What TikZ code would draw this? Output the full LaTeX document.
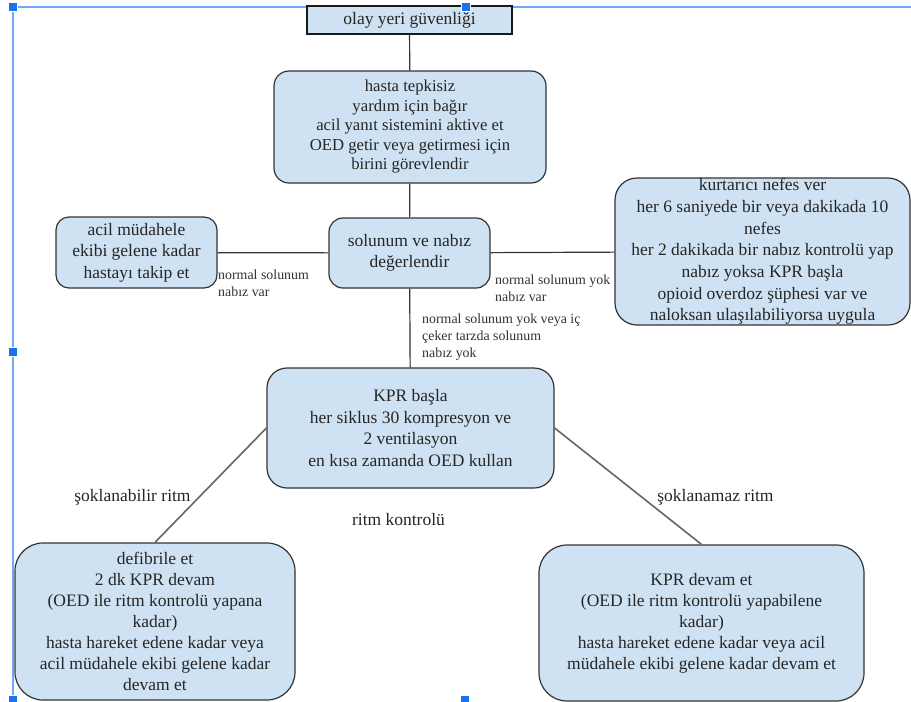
\documentclass[tikz,border=0pt]{standalone}
\usepackage{fontspec}
\setmainfont{Liberation Serif}
\definecolor{boxfill}{HTML}{CFE2F3}
\definecolor{linec}{HTML}{333333}
\definecolor{selline}{HTML}{6FA8F7}
\definecolor{selhandle}{HTML}{1A73E8}
\begin{document}
\begin{tikzpicture}[x=1pt,y=-1pt,
 box/.style={draw=linec, line width=1.2pt, fill=boxfill, align=center, inner sep=0pt, text=black!85, font=\fontsize{17.5}{21.5}\selectfont},
 lbl/.style={align=left, inner sep=0pt, text=black!80, font=\fontsize{13.9}{17}\selectfont},
 mid/.style={inner sep=0pt, text=black!85, font=\fontsize{17.5}{21}\selectfont},
 conn/.style={draw=linec, line width=1.2pt},
 diag/.style={draw=black!60, line width=1.6pt},
 sel/.style={draw=selline, line width=2pt},
 handle/.style={fill=selhandle, draw=white, line width=0.5pt, minimum size=9pt, inner sep=0pt}]
\useasboundingbox (0,0) rectangle (911,702);
\fill[white] (0,0) rectangle (911,702);
\draw[sel] (911,7) -- (13,7) -- (13,702);

\node[box, draw=black!90, line width=1.5pt, minimum width=205pt, minimum height=28pt] (safety) at (409.5,20) {olay yeri güvenliği};
\node[box, rounded corners=15pt, minimum width=272pt, minimum height=112pt, font=\fontsize{16.7}{19.5}\selectfont] (unresp) at (410,127)
 {hasta tepkisiz\\yardım için bağır\\acil yanıt sistemini aktive et\\OED getir veya getirmesi için\\birini görevlendir};
\node[box, rounded corners=14pt, minimum width=161pt, minimum height=70pt] (assess) at (409.5,253)
 {solunum ve nabız\\değerlendir};
\node[box, rounded corners=13pt, minimum width=161pt, minimum height=71pt] (monitor) at (136.5,252.5)
 {acil müdahele\\ekibi gelene kadar\\hastayı takip et};
\node[box, rounded corners=22pt, minimum width=295pt, minimum height=147pt, font=\fontsize{17.5}{21.7}\selectfont] (rescue) at (762.5,251.5)
 {kurtarıcı nefes ver\\her 6 saniyede bir veya dakikada 10\\nefes\\her 2 dakikada bir nabız kontrolü yap\\nabız yoksa KPR başla\\opioid overdoz şüphesi var ve\\naloksan ulaşılabiliyorsa uygula};
\node[box, rounded corners=20pt, minimum width=287pt, minimum height=120pt] (cpr) at (410.5,428)
 {KPR başla\\her siklus 30 kompresyon ve\\2 ventilasyon\\en kısa zamanda OED kullan};
\node[box, rounded corners=28pt, minimum width=280pt, minimum height=157pt, font=\fontsize{17.5}{21}\selectfont] (shock) at (155,621.5)
 {defibrile et\\2 dk KPR devam\\(OED ile ritm kontrolü yapana\\kadar)\\hasta hareket edene kadar veya\\acil müdahele ekibi gelene kadar\\devam et};
\node[box, rounded corners=28pt, minimum width=325pt, minimum height=156pt, font=\fontsize{17.5}{21}\selectfont] (noshock) at (701.5,623)
 {KPR devam et\\(OED ile ritm kontrolü yapabilene\\kadar)\\hasta hareket edene kadar veya acil\\müdahele ekibi gelene kadar devam et};

\draw[conn] (safety) -- (unresp);
\draw[conn] (unresp) -- (assess);
\draw[conn] (assess) -- (monitor);
\draw[conn] (assess) -- (rescue);
\draw[conn] (assess) -- (cpr);
\draw[diag] (cpr.west) -- (shock.north);
\draw[diag] (cpr.east) -- (noshock.north);

\node[lbl, anchor=west] (l1) at (218,283.5) {normal solunum\\nabız var};
\node[lbl, anchor=west] (l2) at (495,288.5) {normal solunum yok\\nabız var};
\node[lbl, anchor=west] (l3) at (422,337) {normal solunum yok veya iç\\çeker tarzda solunum\\nabız yok};
\node[mid] (l4) at (132.5,497) {şoklanabilir ritm};
\node[mid] (l5) at (398.5,520) {ritm kontrolü};
\node[mid] (l6) at (715.5,497) {şoklanamaz ritm};

\node[handle] (h1) at (13,7) {};
\node[handle] (h2) at (466,7) {};
\node[handle] (h3) at (13,352) {};
\node[handle] (h4) at (13,700) {};
\node[handle] (h5) at (465,700) {};
\end{tikzpicture}
\end{document}
